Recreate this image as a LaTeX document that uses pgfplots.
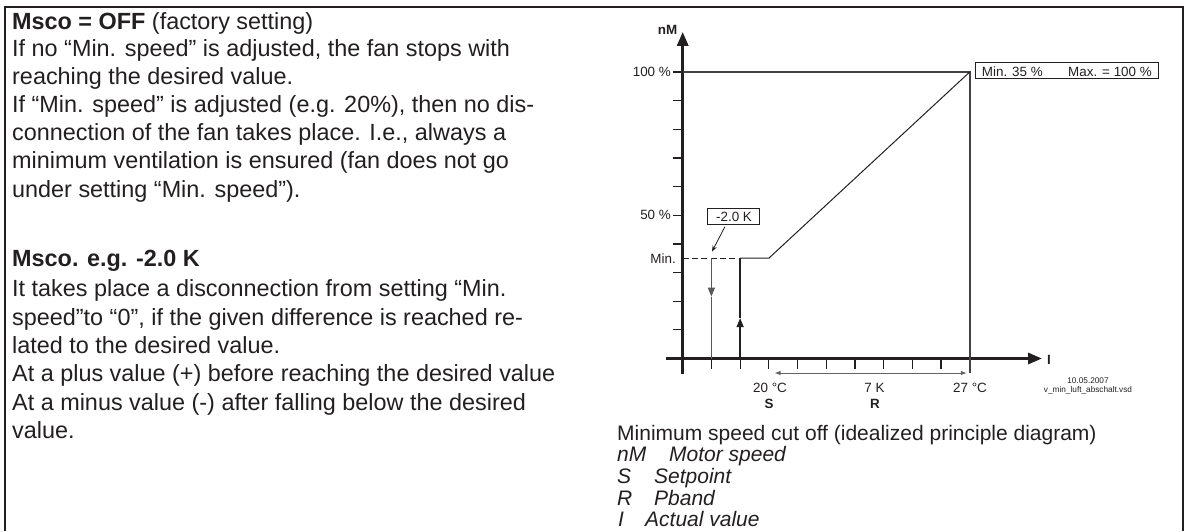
\documentclass[border=0pt]{standalone}
\usepackage{fontspec}
\setmainfont{Liberation Sans}
\usepackage{pgfplots}
\pgfplotsset{compat=1.18}
\usetikzlibrary{arrows.meta}
\definecolor{ink}{HTML}{231F20}
\newcommand{\fs}[1]{\fontsize{#1}{#1}\selectfont}

\begin{document}
\begin{tikzpicture}
\useasboundingbox (0,0) rectangle (1190pt,531pt);

% diagram: x in degC (y axis sits at 17), y in percent
\begin{axis}[
    at={(682.7pt,172.5pt)}, anchor=south west,
    x=28.7pt, y=2.865pt,
    xmin=17, xmax=29.52, ymin=0, ymax=114,
    enlargelimits=false, clip=false,
    axis lines=left,
    axis line style={ink, line width=3pt, -{Triangle[length=14pt,width=11pt]}},
    x axis line style={shorten <=-16.3pt},
    y axis line style={shorten <=-15.5pt},
    xtick={18,...,26}, ytick={10,20,...,100},
    xticklabels={}, yticklabels={},
    tick align=outside, major tick length=10pt,
    tick style={ink, line width=1.2pt},
  ]
  % 100 % line and the 27 degC limit
  \addplot[ink!85, line width=2pt] coordinates {(17,100) (27,100) (27,-5.1)};
  % min. speed, dashed part
  \addplot[ink, line width=1.2pt, dash pattern=on 6pt off 3.3pt] coordinates {(17,35) (19,35)};
  % characteristic
  \addplot[ink, line width=1pt] coordinates {(19,35) (20,35) (27,100)};
  % cut off (down) at 18
  \addplot[ink!75, line width=1.3pt, -{Triangle[length=9pt,width=7pt]}] coordinates {(18,35) (18,21.6)};
  \addplot[ink!75, line width=1.3pt] coordinates {(18,21.6) (18,0)};
  % switch on (up) at 19
  \addplot[ink, line width=1.3pt, -{Triangle[length=9pt,width=7pt]}] coordinates {(19,0) (19,14.1)};
  \addplot[ink, line width=1.3pt] coordinates {(19,14.1) (19,35)};
  % pointer of -2.0 K
  \addplot[ink, line width=0.8pt, -{Stealth[length=6pt,width=4.5pt]}] coordinates {(18.47,46) (18.02,37.3)};
  % Pband
  \addplot[ink!70, line width=0.9pt, {Latex[length=6pt,width=4.5pt]}-{Latex[length=6pt,width=4.5pt]}] coordinates {(20.2,-5.06) (26.9,-5.06)};
\end{axis}

\begin{scope}[x=1pt, y=-1pt, shift={(0pt,531pt)}, every node/.style={text=ink, inner sep=0pt}]
  % frame
  \draw[ink, line width=2pt] (5,531) -- (5,6.7) -- (1183,6.7) -- (1183,531);

  % left text
  \begin{scope}[every node/.append style={anchor=base west, font=\fs{23.4}}]
    \node at (12,29.8) {\textbf{Msco = OFF} (factory setting)};
    \node at (12,56.6) {If no “Min. speed” is adjusted, the fan stops with};
    \node at (12,84.7) {reaching the desired value.};
    \node at (12,112.8) {If “Min. speed” is adjusted (e.g. 20\%), then no dis-};
    \node at (12,140.9) {connection of the fan takes place. I.e., always a};
    \node at (12,169) {minimum ventilation is ensured (fan does not go};
    \node at (12,197.1) {under setting “Min. speed”).};
    \node at (12,266) {\textbf{Msco. e.g. -2.0 K}};
    \node at (12,296.8) {It takes place a disconnection from setting “Min.};
    \node at (12,325.1) {speed”to “0”, if the given difference is reached re-};
    \node at (12,353.4) {lated to the desired value.};
    \node at (12,381.7) {At a plus value (+) before reaching the desired value};
    \node at (12,410) {At a minus value (-) after falling below the desired};
    \node at (12,438.3) {value.};
  \end{scope}

  % caption
  \begin{scope}[every node/.append style={anchor=base west, font=\fs{21}}]
    \node at (617,440) {Minimum speed cut off (idealized principle diagram)};
    \node at (617,461.7) {\itshape nM};  \node at (669,461.7) {\itshape Motor speed};
    \node at (617,483.3) {\itshape S};   \node at (654,483.3) {\itshape Setpoint};
    \node at (617,505) {\itshape R};     \node at (654,505) {\itshape Pband};
    \node at (618,526.7) {\itshape I};   \node at (645,526.7) {\itshape Actual value};
  \end{scope}

  % diagram labels
  \begin{scope}[every node/.append style={font=\fs{13.4}}]
    \node[anchor=base] at (667.5,35) {\textbf{nM}};
    \node[anchor=base east] at (671,76.8) {100 \%};
    \node[anchor=base east] at (671,219.8) {50 \%};
    \node[anchor=base east] at (676,263.5) {Min.};
    \node[anchor=base west] at (1047,364) {\textbf{I}};
    \node[anchor=base] at (770,392.7) {20 °C};
    \node[anchor=base] at (769,408.3) {\textbf{S}};
    \node[anchor=base] at (874.5,392.7) {7 K};
    \node[anchor=base] at (875,408.3) {\textbf{R}};
    \node[anchor=base] at (970,392.7) {27 °C};
    \draw[ink, line width=1pt] (707.7,208) rectangle (759,224);
    \node[anchor=base] at (734,221.7) {-2.0 K};
    \draw[ink, line width=1pt] (975.7,63) rectangle (1158,79);
    \node[anchor=base west] at (981.7,76.5) {Min. 35 \%};
    \node[anchor=base west] at (1068,76.5) {Max. = 100 \%};
  \end{scope}
  \node[anchor=base, font=\fs{8.25}] at (1088,383) {10.05.2007};
  \node[anchor=base, font=\fs{8.25}] at (1088,392.7) {v\_min\_luft\_abschalt.vsd};
\end{scope}
\end{tikzpicture}
\end{document}
